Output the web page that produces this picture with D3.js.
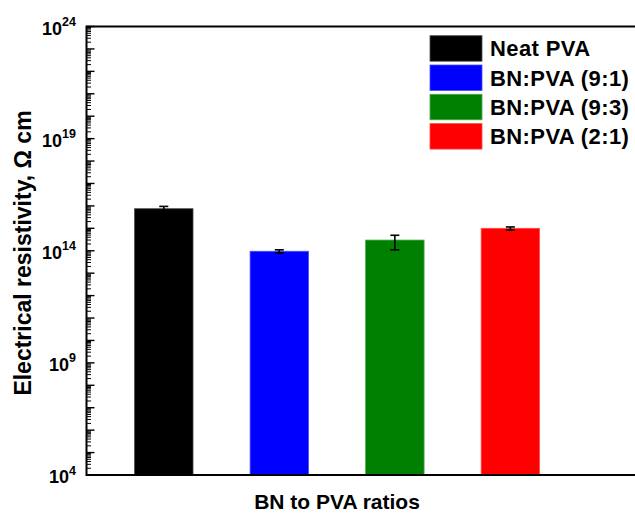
<!DOCTYPE html>
<html><head><meta charset="utf-8">
<script src="https://cdn.jsdelivr.net/npm/d3@7"></script>
<style>body{margin:0;background:#fff}svg{display:block;font-family:"Liberation Sans",Arial,sans-serif;font-weight:bold}</style>
</head><body><svg id="c" width="635" height="514"></svg>
<script>
const categories = ["Neat PVA", "BN:PVA (9:1)", "BN:PVA (9:3)", "BN:PVA (2:1)"];
const values = [7.5e15, 0.95e14, 3.0e14, 1.0e15];
const errors = [2.0e15, 0.15e14, 1.9e14, 0.15e15];
const colors = ["#000000", "#0000ff", "#008000", "#ff0000"];
const labeledExponents = [4, 9, 14, 19, 24];
const xTitle = "BN to PVA ratios";
const yTitle = "Electrical resistivity, \u03A9 cm";

const svg = d3.select("#c");
const L = 86.5, R = 636, T = 26.5, B = 475;
const y = d3.scaleLog().domain([1e4, 1e24]).range([B, T]);
const x = d3.scaleLinear().domain([0.331, 5.07]).range([L, 634]);
const hw = 0.253;

// bars
svg.selectAll("rect.bar").data(values).enter().append("rect")
  .attr("class","bar")
  .attr("x",(d,i)=>x(i+1-hw)).attr("width",(d,i)=>x(i+1+hw)-x(i+1-hw))
  .attr("y",d=>y(d)).attr("height",d=>B-y(d))
  .attr("fill",(d,i)=>colors[i])
  .attr("stroke",(d,i)=>d3.interpolateRgb(colors[i],"#fff")(0.3)).attr("stroke-width",0.8);

// error bars
const eg = svg.append("g").attr("stroke","#000").attr("stroke-width",1.6);
values.forEach((v,i)=>{
  const cx = x(i+1), hi = y(v+errors[i]), lo = y(v-errors[i]);
  eg.append("line").attr("x1",cx).attr("x2",cx).attr("y1",hi).attr("y2",lo);
  eg.append("line").attr("x1",cx-4.5).attr("x2",cx+4.5).attr("y1",hi).attr("y2",hi);
  eg.append("line").attr("x1",cx-4.5).attr("x2",cx+4.5).attr("y1",lo).attr("y2",lo);
});

// ticks
const tg = svg.append("g").attr("stroke","#000").attr("stroke-width",1.4);
for(let e=4;e<=24;e++){
  tg.append("line").attr("x1",L).attr("x2",L+8).attr("y1",y(Math.pow(10,e))).attr("y2",y(Math.pow(10,e)));
  if(e<24) for(let m=2;m<=9;m++){
    const yy = y(m*Math.pow(10,e));
    tg.append("line").attr("x1",L).attr("x2",L+4.5).attr("y1",yy).attr("y2",yy).attr("stroke-width",1);
  }
}
// tick labels
labeledExponents.forEach(e=>{
  const t = svg.append("text").attr("x",76).attr("y",y(Math.pow(10,e))+8)
    .attr("text-anchor","end").attr("font-size",18).attr("fill","#000");
  t.append("tspan").text("10");
  t.append("tspan").attr("font-size",12.5).attr("dy",-8.5).text(e);
});

// axis lines
svg.append("path").attr("d",`M${R},${T}H${L}V${B}H${R}`).attr("fill","none")
  .attr("stroke","#000").attr("stroke-width",2);

// titles
svg.append("text").attr("x",337).attr("y",509).attr("text-anchor","middle")
  .attr("font-size",21).text(xTitle);
svg.append("text").attr("transform","translate(31,253) rotate(-90)").attr("text-anchor","middle")
  .attr("font-size",23).text(yTitle);

// legend
const lg = svg.append("g");
categories.forEach((c,i)=>{
  const yy = 35.7 + i*29.3;
  lg.append("rect").attr("x",430).attr("y",yy).attr("width",52).attr("height",25.5)
    .attr("fill",colors[i]).attr("stroke",d3.interpolateRgb(colors[i],"#fff")(0.3)).attr("stroke-width",0.8);
  lg.append("text").attr("x",490).attr("y",yy+20.5).attr("font-size",22).attr("letter-spacing",0.4).text(c);
});
</script></body></html>
